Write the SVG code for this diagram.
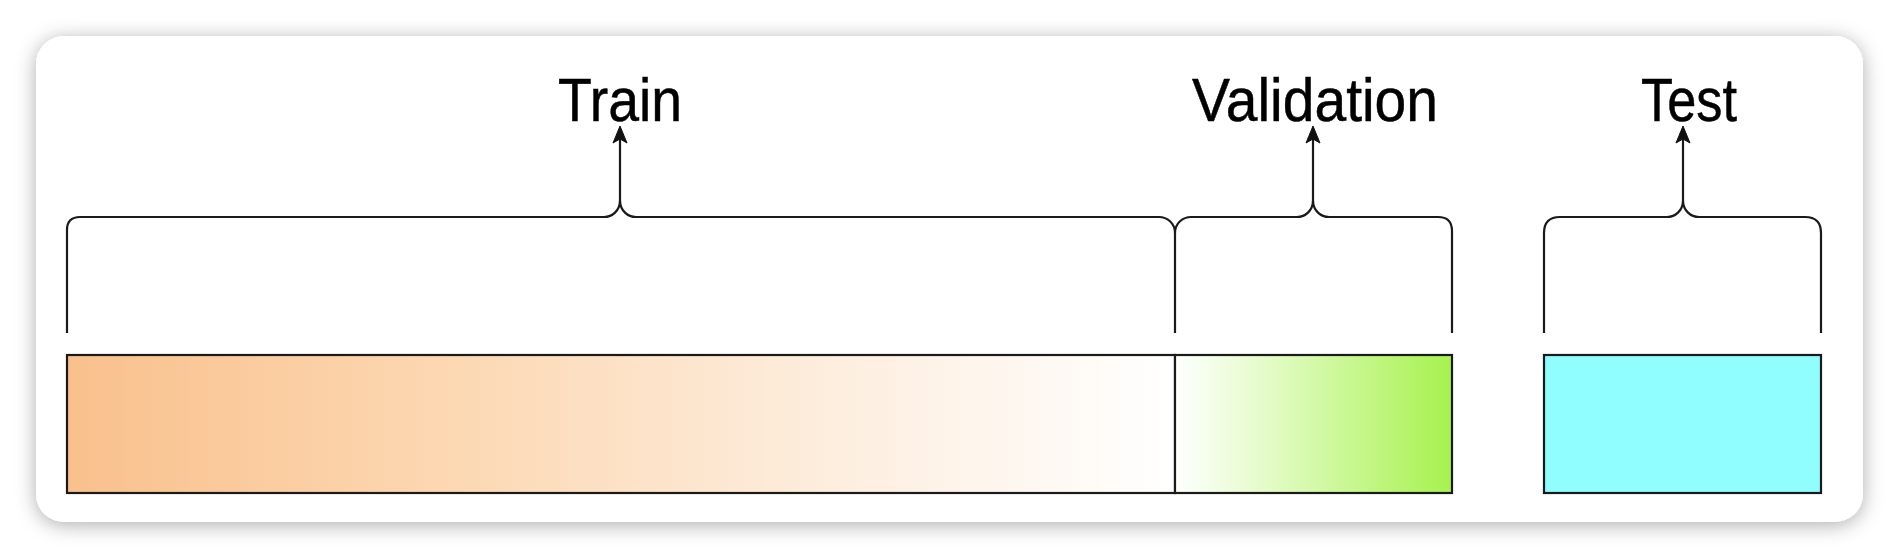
<svg xmlns="http://www.w3.org/2000/svg" width="1900" height="558" viewBox="0 0 1900 558">
  <style>
    .lbl { font-family: "Liberation Sans", Arial, Helvetica, sans-serif; font-size: 62px; fill: #000; stroke: #000; stroke-width: 0.5; text-anchor: middle; }
    .bar { stroke: #1a1a1a; stroke-width: 2.2; }
    .brace { fill: none; stroke: #1a1a1a; stroke-width: 2.2; }
    .arrow { fill: none; stroke: #1a1a1a; stroke-width: 2.2; }
    .head { fill: #111; stroke: #111; stroke-width: 1; stroke-linejoin: miter; }
  </style>
  <defs>
    <filter id="shadow" x="-5%" y="-20%" width="110%" height="140%">
      <feDropShadow dx="0" dy="3" stdDeviation="10" flood-color="#000" flood-opacity="0.32"/>
    </filter>
    <linearGradient id="gTrain" x1="0" y1="0" x2="1" y2="0">
      <stop offset="0" stop-color="#f9c08c"/>
      <stop offset="0.35" stop-color="#fcd8b3"/>
      <stop offset="0.7" stop-color="#fdeedf"/>
      <stop offset="1" stop-color="#ffffff"/>
    </linearGradient>
    <linearGradient id="gVal" x1="0" y1="0" x2="1" y2="0">
      <stop offset="0" stop-color="#ffffff"/>
      <stop offset="0.35" stop-color="#e2fbc4"/>
      <stop offset="1" stop-color="#a6f24e"/>
    </linearGradient>
    <path id="ah" d="M0,0 L7,17 L0,13 L-7,17 z"/>
  </defs>

  <rect width="1900" height="558" fill="#ffffff"/>

  <g id="card">
    <rect x="36" y="36" width="1827" height="486" rx="28" ry="28" fill="#ffffff" filter="url(#shadow)"/>
  </g>

  <g id="train">
    <rect class="bar" x="67" y="355" width="1108" height="138" fill="url(#gTrain)"/>
  </g>
  <g id="validation">
    <rect class="bar" x="1175" y="355" width="277" height="138" fill="url(#gVal)"/>
  </g>
  <g id="test">
    <rect class="bar" x="1544" y="355" width="277" height="138" fill="#90fefe"/>
  </g>

  <g id="label-train">
    <text class="lbl" x="620" y="121" textLength="124" lengthAdjust="spacingAndGlyphs">Train</text>
  </g>
  <g id="label-validation">
    <text class="lbl" x="1315" y="121" textLength="246" lengthAdjust="spacingAndGlyphs">Validation</text>
  </g>
  <g id="label-test">
    <text class="lbl" x="1689" y="121" textLength="96" lengthAdjust="spacingAndGlyphs">Test</text>
  </g>

  <g id="connectors">
    <!-- Train brace -->
    <path class="brace" d="M67,333 L67,230 Q67,217 80,217 L604,217 C612,217 620,211 620,200 C620,211 628,217 636,217 L1159,217 C1167,217 1175,223 1175,233 L1175,333"/>
    <!-- Validation brace -->
    <path class="brace" d="M1175,233 C1175,223 1183,217 1191,217 L1297,217 C1305,217 1313,211 1313,200 C1313,211 1321,217 1329,217 L1438,217 Q1452,217 1452,231 L1452,333"/>
    <!-- Test brace -->
    <path class="brace" d="M1544,333 L1544,233 Q1544,217 1560,217 L1667,217 C1675,217 1683,211 1683,200 C1683,211 1691,217 1699,217 L1805,217 Q1821,217 1821,233 L1821,333"/>
    <!-- Arrows -->
    <path class="arrow" d="M620,200 L620,138"/>
    <use href="#ah" class="head" x="620" y="126"/>
    <path class="arrow" d="M1313,200 L1313,138"/>
    <use href="#ah" class="head" x="1313" y="126"/>
    <path class="arrow" d="M1683,200 L1683,138"/>
    <use href="#ah" class="head" x="1683" y="126"/>
  </g>
</svg>
